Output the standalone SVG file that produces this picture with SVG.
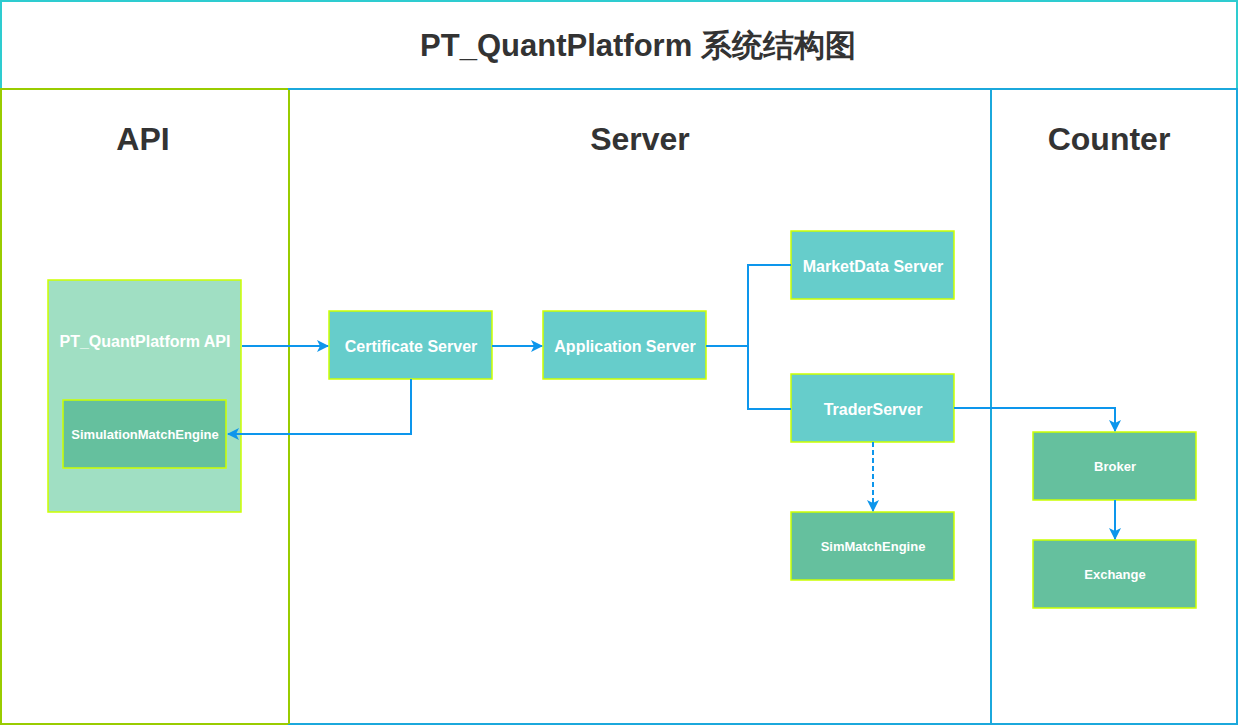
<svg xmlns="http://www.w3.org/2000/svg" width="1238" height="725" viewBox="0 0 1238 725">
<defs>
<marker id="arr" viewBox="0 0 12 12" refX="11" refY="6" markerWidth="12" markerHeight="12" markerUnits="userSpaceOnUse" orient="auto">
<path d="M0,0 L12,6 L0,12 L3,6 Z" fill="#0d96ec"/>
</marker>
<style>
text{font-family:"Liberation Sans",Arial,sans-serif;font-weight:bold;text-anchor:middle;dominant-baseline:central}
.hd{fill:#333333;font-size:32px}
.ttl{fill:#333333;font-size:31px}
.n1 rect{fill:#66CDCB;stroke:#CCFF00;stroke-width:1.5}
.n2 rect{fill:#65C09E;stroke:#CCFF00;stroke-width:1.5}
.n1 text{fill:#ffffff;font-size:16px}
.n2 text{fill:#ffffff;font-size:13px}
.c{fill:none;stroke:#0d96ec;stroke-width:2}
</style>
</defs>
<rect x="0" y="0" width="1238" height="725" fill="#ffffff"/>
<g id="lanes">
<rect x="1" y="1" width="1236" height="88" fill="#ffffff" stroke="#2ECCD0" stroke-width="2"/>
<text class="ttl" x="638" y="45">PT_QuantPlatform 系统结构图</text>
<rect x="1" y="89" width="288" height="635" fill="none" stroke="#99CC00" stroke-width="2"/>
<rect x="289" y="89" width="702" height="635" fill="none" stroke="#1BA8DC" stroke-width="2"/>
<line x1="289" y1="90" x2="289" y2="724" stroke="#99CC00" stroke-width="2"/>
<rect x="991" y="89" width="246" height="635" fill="none" stroke="#1BA8DC" stroke-width="2"/>
<text class="hd" x="143" y="139">API</text>
<text class="hd" x="640" y="139">Server</text>
<text class="hd" x="1109" y="139">Counter</text>
</g>
<g id="api-container">
<rect x="48" y="280" width="193" height="232" fill="#A0DFC3" stroke="#CCFF00" stroke-width="1.5"/>
<text x="145" y="341" fill="#ffffff" font-size="16">PT_QuantPlatform API</text>
</g>
<g id="simulationmatchengine" class="n2"><rect x="63" y="400" width="163" height="68"/><text x="145" y="434">SimulationMatchEngine</text></g>
<g id="certificate" class="n1"><rect x="329" y="311" width="163" height="68"/><text x="411" y="346">Certificate Server</text></g>
<g id="application" class="n1"><rect x="543" y="311" width="163" height="68"/><text x="625" y="346">Application Server</text></g>
<g id="marketdata" class="n1"><rect x="791" y="231" width="163" height="68"/><text x="873" y="266">MarketData Server</text></g>
<g id="trader" class="n1"><rect x="791" y="374" width="163" height="68"/><text x="873" y="409">TraderServer</text></g>
<g id="simmatch" class="n2"><rect x="791" y="512" width="163" height="68"/><text x="873" y="546">SimMatchEngine</text></g>
<g id="broker" class="n2"><rect x="1033" y="432" width="163" height="68"/><text x="1115" y="466">Broker</text></g>
<g id="exchange" class="n2"><rect x="1033" y="540" width="163" height="68"/><text x="1115" y="574">Exchange</text></g>
<g id="connectors">
<path class="c" d="M242,346 L328,346" marker-end="url(#arr)"/>
<path class="c" d="M411,379 L411,434 L228,434" marker-end="url(#arr)"/>
<path class="c" d="M492,346 L542,346" marker-end="url(#arr)"/>
<path class="c" d="M706,346 L748,346 L748,265 L791,265"/>
<path class="c" d="M748,346 L748,409 L791,409"/>
<path class="c" d="M954,408 L1115,408 L1115,431" marker-end="url(#arr)"/>
<path class="c" d="M873,442 L873,511" stroke-dasharray="5,3" marker-end="url(#arr)"/>
<path class="c" d="M1115,500 L1115,539" marker-end="url(#arr)"/>
</g>
</svg>
